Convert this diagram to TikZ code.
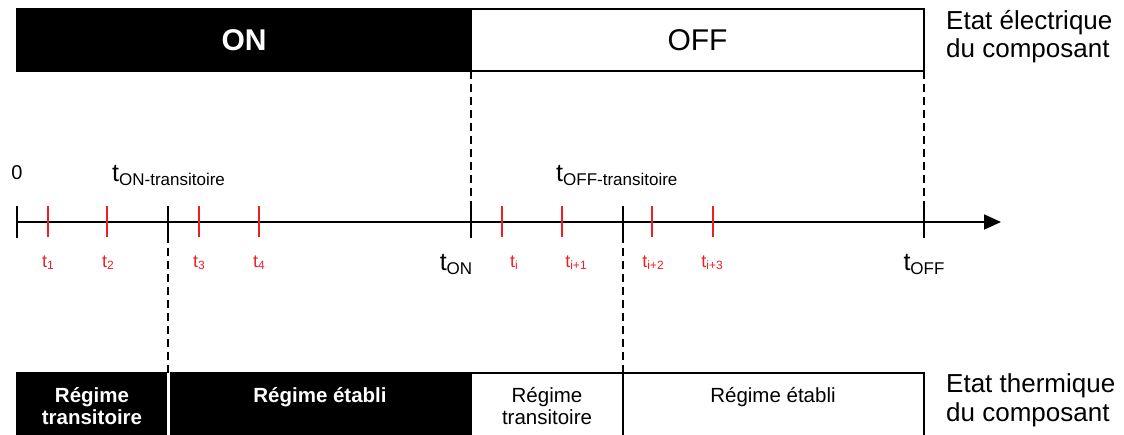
\documentclass[tikz,border=0pt]{standalone}
\usepackage{fontspec}
\setmainfont{Liberation Sans}
\usetikzlibrary{arrows.meta}
\definecolor{tred}{RGB}{238,30,36}
\newcommand\tlab[4]{t{\fontsize{#3}{#3}\selectfont\raisebox{-#4}{#1}}}
\tikzset{
  onbox/.style={draw=black,fill=black,line width=1.2pt,inner sep=0pt,outer sep=0pt,anchor=north west},
  offbox/.style={draw=black,fill=white,line width=1.2pt,inner sep=0pt,outer sep=0pt,anchor=north west},
  axisline/.style={line width=1.8pt,-{Triangle[length=17pt,width=15pt]}},
  blacktick/.style={line width=1.6pt},
  redtick/.style={line width=1.6pt,draw=tred},
  dashline/.style={line width=1.4pt,dash pattern=on 8pt off 5pt},
  blab/.style={inner sep=0pt,font=\fontsize{25}{25}\selectfont},
  rlab/.style={inner sep=0pt,text=tred,font=\fontsize{18}{18}\selectfont},
  side/.style={inner sep=0pt,anchor=base west,font=\fontsize{26}{26}\selectfont},
  boxtxt/.style={inner sep=0pt,align=center,font=\fontsize{20.5}{22}\selectfont},
}
\begin{document}
\begin{tikzpicture}[x=1pt,y=-1pt]
\clip (0,0) rectangle (1124,434);
\fill[white] (0,0) rectangle (1124,434);
% top bar
\node[onbox,minimum width=454pt,minimum height=62pt] (on) at (17,9) {};
\node[offbox,minimum width=453pt,minimum height=62pt] (off) at (471,9) {};
\node[inner sep=0pt,text=white,font=\bfseries\fontsize{30}{30}\selectfont] (ontxt) at (on.center) {ON};
\node[inner sep=0pt,font=\fontsize{30}{30}\selectfont] (offtxt) at (off.center) {OFF};
\node[side] (elec1) at (946,29) {Etat électrique};
\node[side] (elec2) at (946,57) {du composant};
% axis
\coordinate (k0) at (17,222);
\coordinate (kt1) at (168,222);
\coordinate (kon) at (471,222);
\coordinate (kt2) at (623,222);
\coordinate (koff) at (924,222);
\coordinate (tip) at (1001,222);
\draw[axisline] (k0) -- (tip);
\foreach \k in {k0,kt1,kon,kt2,koff}
  \draw[blacktick] ([yshift=-16pt]\k) -- ([yshift=16pt]\k);
\foreach \x in {48,107,199,259,502,562,652,713}
  \draw[redtick] (\x,206) -- (\x,237);
% black labels
\node[blab,anchor=base,font=\fontsize{20}{20}\selectfont] (zero) at (17,179) {0};
\node[blab,anchor=base west] (lton) at (112,181) {\tlab{ON-transitoire}{}{17}{4pt}};
\node[blab,anchor=base west] (ltoff) at (556,181) {\tlab{OFF-transitoire}{}{17}{4pt}};
\node[blab,anchor=base] (ton) at (456,270) {\tlab{ON}{}{17}{4pt}};
\node[blab,anchor=base] (toff) at (924,270) {\tlab{OFF}{}{17}{4pt}};
% red labels
\node[rlab,anchor=base] (l1) at (48,267) {\tlab{1}{}{12}{2.5pt}};
\node[rlab,anchor=base] (l2) at (108,267) {\tlab{2}{}{12}{2.5pt}};
\node[rlab,anchor=base] (l3) at (199,267) {\tlab{3}{}{12}{2.5pt}};
\node[rlab,anchor=base] (l4) at (259,267) {\tlab{4}{}{12}{2.5pt}};
\node[rlab,anchor=base] (li) at (514,267) {\tlab{i}{}{12}{2.5pt}};
\node[rlab,anchor=base] (li1) at (576,267) {\tlab{i+1}{}{12}{2.5pt}};
\node[rlab,anchor=base] (li2) at (653,267) {\tlab{i+2}{}{12}{2.5pt}};
\node[rlab,anchor=base] (li3) at (712,267) {\tlab{i+3}{}{12}{2.5pt}};
% bottom bar
\node[onbox,minimum width=149.5pt,minimum height=70pt] (b1) at (17,373) {};
\node[onbox,minimum width=300.5pt,minimum height=70pt] (b2) at (170.5,373) {};
\node[offbox,minimum width=152pt,minimum height=70pt] (b3) at (471,373) {};
\node[offbox,minimum width=301pt,minimum height=70pt] (b4) at (623,373) {};
\node[boxtxt,text=white,font=\bfseries\fontsize{20.5}{22}\selectfont] (b1t) at (92,406) {Régime\\transitoire};
\node[boxtxt,text=white,font=\bfseries\fontsize{20.5}{22}\selectfont,anchor=base] (b2t) at (320,402) {Régime établi};
\node[boxtxt] (b3t) at (547,406) {Régime\\transitoire};
\node[boxtxt,anchor=base] (b4t) at (773,402) {Régime établi};
\node[side] (th1) at (946,392) {Etat thermique};
\node[side] (th2) at (946,421) {du composant};
% dashed connectors
\draw[dashline] (on.south east) -- (kon);
\draw[dashline] (off.south east) -- (koff);
\draw[dashline] (kt1) -- (b2.north west -| kt1);
\draw[dashline] (kt2) -- (b4.north west);
\end{tikzpicture}
\end{document}
